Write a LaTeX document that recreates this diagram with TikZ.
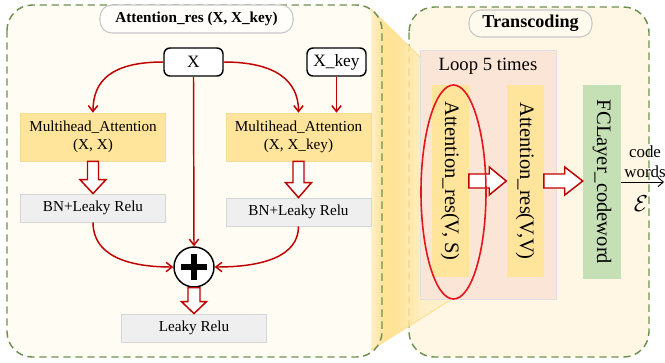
\documentclass[tikz,border=0pt]{standalone}
\usepackage{fontspec}
\setmainfont{Liberation Serif}
\usetikzlibrary{arrows.meta,calc,shapes.geometric}
\newdimen\pxu \pxu=0.75pt

\definecolor{panelL}{HTML}{FFFCF4}
\definecolor{panelR}{HTML}{FFF7E3}
\definecolor{dashgreen}{HTML}{6E9150}
\definecolor{maY}{HTML}{FFE49C}
\definecolor{bnG}{HTML}{EFEFEF}
\definecolor{bnB}{HTML}{D6D6D6}
\definecolor{loopP}{HTML}{FBE5D6}
\definecolor{fcG}{HTML}{C5E0B4}
\definecolor{arrR}{HTML}{C00000}
\definecolor{ellR}{HTML}{E8141B}
\definecolor{funY}{HTML}{FFDE85}

% horizontal fade of the zoom funnel (path box spans 25bp..75bp)
\pgfdeclarehorizontalshading{funnelshade}{100bp}{%
  color(0bp)=(funY!45!panelL); color(25bp)=(funY!45!panelL); color(33bp)=(funY);
  color(40bp)=(funY); color(49bp)=(funY!70!panelR); color(56bp)=(funY!40!panelR);
  color(75bp)=(funY!25!panelR); color(100bp)=(funY!25!panelR)}

% hollow block arrow pointing down, from #1 to the level of #2
\newcommand\hollowdown[5]{%
  \draw[hollow] ($(#1)+(-#3,0)$) -- ($(#1|-#2)+(-#3,-#5)$) -- ($(#1|-#2)+(-#4,-#5)$)
    -- (#1|-#2) -- ($(#1|-#2)+(#4,-#5)$) -- ($(#1|-#2)+(#3,-#5)$) -- ($(#1)+(#3,0)$) -- cycle;}
% hollow block arrow pointing right, from #1 to the abscissa of #2
\newcommand\hollowright[5]{%
  \draw[hollow] ($(#1)+(0,-#3)$) -- ($(#1-|#2)+(-#5,-#3)$) -- ($(#1-|#2)+(-#5,-#4)$)
    -- (#1-|#2) -- ($(#1-|#2)+(-#5,#4)$) -- ($(#1-|#2)+(-#5,#3)$) -- ($(#1)+(0,#3)$) -- cycle;}

\begin{document}
\begin{tikzpicture}[x=0.75pt,y=-0.75pt,
  panel/.style={draw=dashgreen, line width=1.1pt, dash pattern=on 5.5pt off 3.5pt, rounded corners=19pt},
  titlebox/.style={draw=black!22, line width=0.8pt, rounded corners=9pt, inner sep=0pt},
  txt/.style={font=\fontsize{11.4}{13.8}\selectfont},
  inbox/.style={draw=black, fill=white, line width=1.1pt, rounded corners=4.5pt, inner sep=0pt,
    minimum width=59\pxu, minimum height=28\pxu, font=\fontsize{13}{15}\selectfont},
  mabox/.style={fill=maY, draw=maY!80!black!20!maY, line width=0.4pt, inner sep=0pt, align=center,
    minimum width=145\pxu, minimum height=48\pxu, txt},
  bnbox/.style={fill=bnG, draw=bnB, line width=0.6pt, inner sep=0pt,
    minimum width=145\pxu, minimum height=28\pxu, txt},
  vbox/.style={inner sep=0pt, minimum width=37\pxu, minimum height=192\pxu},
  vtext/.style={inner sep=0pt, rotate=-90, font=\fontsize{15.4}{17}\selectfont},
  conn/.style={draw=arrR, line width=1.1pt, -{Straight Barb[length=4.5pt,width=7pt]}},
  hollow/.style={draw=arrR, fill=white, line width=1.1pt, line join=miter}]
\useasboundingbox (0,0) rectangle (665,362);

% panel backgrounds
\fill[panelL, rounded corners=19pt] (7,5) rectangle (382,357);
\fill[panelR, rounded corners=19pt] (409,7) rectangle (649,357);
\draw[panel] (409,7) rectangle (649,357);

% zoom funnel from the left panel to the first block
\shade[shading=funnelshade, opacity=0.85]
  (371,9) -- (420,57) -- (452,299) -- (371,350) -- cycle;
\draw[funY, line width=0.6pt] (371,9) -- (420,57);
\draw[funY, line width=0.6pt] (371,350) -- (452,299);

% left panel border
\draw[panel] (7,5) rectangle (382,357);

% ---------- Attention_res block ----------
\node[titlebox, fill=white!50!panelL, minimum width=193\pxu, minimum height=28\pxu,
  font=\bfseries\fontsize{11.4}{13}\selectfont] (titleL) at (196.5,19) {Attention\_res (X, X\_key)};

\node[inbox] (xN) at (193.5,62) {X};
\node[inbox] (xkey) at (336.5,62) {X\_key};

\node[mabox] (maL) at (93,137) {Multihead\_Attention\\(X, X)};
\node[mabox] (maR) at (298.5,137) {Multihead\_Attention\\(X, X\_key)};

\node[bnbox] (bnL) at (93,208) {BN+Leaky Relu};
\node[bnbox] (bnR) at (298.5,212) {BN+Leaky Relu};

\node[circle, draw=black, fill=white, line width=1.1pt, minimum size=40\pxu, inner sep=0pt] (plus) at (194,267) {};
\draw[line width=5.2pt] ($(plus.center)+(-13,0)$) -- ($(plus.center)+(13,0)$);
\draw[line width=5.2pt] ($(plus.center)+(0,-13)$) -- ($(plus.center)+(0,13)$);

\node[bnbox] (leaky) at (194,328) {Leaky Relu};

% connectors
\draw[conn] (xN.west) .. controls ($(xN.west)+(-52,0)$) and ($(maL.north)+(0,-32)$) .. (maL.north);
\draw[conn] (xN.east) .. controls ($(xN.east)+(52,0)$) and ($(maR.north)+(0,-32)$) .. (maR.north);
\draw[conn] (xkey.south) -- (xkey.south|-maR.north);
\draw[conn] (xN.south) -- (plus.north);
\draw[conn] (bnL.south) .. controls ($(bnL.south)+(0,32)$) and ($(plus.west)+(-48,0)$) .. (plus.west);
\draw[conn] (bnR.south) .. controls ($(bnR.south)+(0,30)$) and ($(plus.east)+(48,0)$) .. (plus.east);

\hollowdown{maL.south}{bnL.north}{5.5}{13}{14}
\hollowdown{maR.south}{bnR.north}{5.5}{13}{15}
\hollowdown{plus.south}{leaky.north}{6}{12.5}{12}

% ---------- Transcoding block ----------
\node[titlebox, fill=panelR!60!white, minimum width=123\pxu, minimum height=27\pxu,
  font=\bfseries\fontsize{13.6}{15}\selectfont] (titleR) at (530.5,23.5) {Transcoding};

\node[fill=loopP, draw=black!12, line width=0.6pt, inner sep=0pt,
  minimum width=136\pxu, minimum height=249\pxu] (loop) at (488,174.5) {};
\node[font=\fontsize{14}{16}\selectfont] (loopT) at (488,66) {Loop 5 times};

\node[vbox, fill=maY] (attVS) at (450,181) {};
\node[vtext] (attVSt) at (attVS.center) {Attention\_res(V, S)};
\node[vbox, fill=maY] (attVV) at (525,181) {};
\node[vtext] (attVVt) at (attVV.center) {Attention\_res(V,V)};
\node[vbox, fill=fcG, minimum height=194\pxu, minimum width=38\pxu] (fc) at (602,182) {};
\node[vtext] (fct) at (fc.center) {FCLayer\_codeword};

\hollowright{attVS.east}{attVV.west}{7}{14}{17}
\hollowright{attVV.east}{fc.west}{7}{14}{18}

\node[ellipse, draw=ellR, line width=1.2pt, minimum width=65\pxu, minimum height=214\pxu, inner sep=0pt] (ell) at (453.5,192) {};

% output
\coordinate (out) at (664,182);
\draw[line width=0.7pt, -{Straight Barb[length=4pt,width=7pt]}] (fc.east|-out) -- (out);
\node[align=center, font=\fontsize{12.7}{15}\selectfont, inner sep=0pt] (cw) at (645,162) {code\\words};
\node[inner sep=0pt, font=\fontsize{18}{18}\selectfont] (eps) at (641,204) {$\mathcal{E}$};
\end{tikzpicture}
\end{document}
